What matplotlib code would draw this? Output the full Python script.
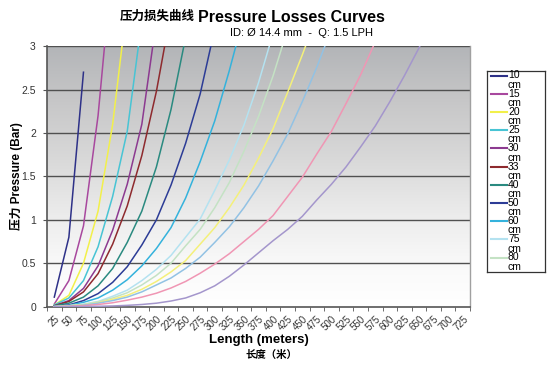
import matplotlib
matplotlib.use("Agg")
import matplotlib.pyplot as plt
import numpy as np
from matplotlib.colors import LinearSegmentedColormap

plt.rcParams['font.family'] = ['Liberation Sans', 'Noto Sans CJK SC', 'DejaVu Sans']

# ==============================
# data
# ==============================
lengths = [25, 50, 75, 100, 125, 150, 175, 200, 225, 250, 275, 300, 325, 350,
           375, 400, 425, 450, 475, 500, 525, 550, 575, 600, 625, 650, 675,
           700, 725]

p_10 = [0.11, 0.80, 2.70]
p_15 = [0.03, 0.30, 0.93, 2.20, 4.00]
p_20 = [0.02, 0.13, 0.50, 1.10, 2.10, 3.50]
p_25 = [0.02, 0.10, 0.30, 0.69, 1.27, 2.02, 3.30]
p_30 = [0.01, 0.07, 0.21, 0.47, 0.88, 1.41, 2.10, 3.30]
p_33 = [0.01, 0.06, 0.17, 0.38, 0.72, 1.16, 1.74, 2.48, 3.40]
p_40 = [0.01, 0.04, 0.11, 0.24, 0.44, 0.74, 1.10, 1.61, 2.27, 3.10]
p_50 = [0.0, 0.02, 0.07, 0.15, 0.28, 0.46, 0.71, 1.00, 1.40, 1.88, 2.45, 3.20]
p_60 = [0.0, 0.015, 0.05, 0.10, 0.19, 0.31, 0.47, 0.67, 0.91, 1.25, 1.67,
        2.14, 2.72, 3.35]
p_75 = [0.0, 0.01, 0.03, 0.06, 0.12, 0.19, 0.30, 0.43, 0.59, 0.80, 1.01,
        1.34, 1.69, 2.09, 2.58, 3.15]
p_80 = [0.0, 0.01, 0.025, 0.055, 0.10, 0.16, 0.25, 0.36, 0.50, 0.70, 0.89,
        1.14, 1.43, 1.79, 2.19, 2.66, 3.20]
p_100 = [0.0, 0.01, 0.02, 0.045, 0.085, 0.13, 0.20, 0.29, 0.40, 0.53, 0.72,
         0.91, 1.14, 1.40, 1.71, 2.05, 2.47, 2.90, 3.35]
p_120 = [0.0, 0.006, 0.018, 0.04, 0.07, 0.11, 0.17, 0.25, 0.33, 0.44, 0.57,
         0.74, 0.92, 1.14, 1.39, 1.68, 1.99, 2.36, 2.76, 3.20]
p_150 = [0.0, 0.004, 0.012, 0.025, 0.045, 0.075, 0.11, 0.155, 0.215, 0.29,
         0.385, 0.49, 0.61, 0.75, 0.89, 1.05, 1.27, 1.49, 1.76, 2.02, 2.34,
         2.67, 3.05]
p_200 = [0.0, 0.0, 0.002, 0.004, 0.008, 0.015, 0.025, 0.04, 0.065, 0.10,
         0.16, 0.24, 0.35, 0.48, 0.62, 0.76, 0.89, 1.04, 1.23, 1.41, 1.61,
         1.84, 2.08, 2.36, 2.66, 2.98, 3.35]

series = [p_10, p_15, p_20, p_25, p_30, p_33, p_40, p_50, p_60, p_75, p_80,
          p_100, p_120, p_150, p_200]
legend_labels = ["10", "15", "20", "25", "30", "33", "40", "50", "60", "75", "80"]

colors = ["#2e3188", "#a8489e", "#f2f04a", "#48c4d4", "#8c3a90", "#8e2a2e",
          "#2a8a80", "#2c3c96", "#34b2dc", "#b4e2f0", "#c4e2c4", "#f4f07a",
          "#92c2e4", "#f096b4", "#a496cc"]

# ==============================
# figure
# ==============================
fig = plt.figure(figsize=(5.53, 3.80), dpi=100)
ax = fig.add_axes([0.085, 0.193, 0.765, 0.6855])

# gray-to-white background gradient
grad = LinearSegmentedColormap.from_list(
    "bg", [(0.0, "#ffffff"), (0.15, "#fafafa"), (0.35, "#ececec"),
           (0.55, "#dadada"), (0.8, "#c6c6c7"), (1.0, "#b3b5b8")])
ax.imshow(np.linspace(0, 1, 256).reshape(-1, 1), cmap=grad, origin="lower",
          aspect="auto", extent=(-0.5, len(lengths) - 0.5, 0, 3), zorder=0)

for y in [0.5, 1, 1.5, 2, 2.5, 3]:
    ax.axhline(y, color="#505050", lw=1.0, zorder=1)

for vals, c in zip(series, colors):
    ax.plot(np.arange(len(vals)), vals, color=c, lw=1.1, zorder=3)

ax.set_xlim(-0.5, len(lengths) - 0.5)
ax.set_ylim(0, 3)

ax.set_xticks(np.arange(len(lengths)))
ax.set_xticklabels([str(v) for v in lengths], rotation=45, ha="right",
                   rotation_mode="anchor", fontsize=7, color="#333333")
ax.set_xticks(np.arange(len(lengths) + 1) - 0.5, minor=True)
ax.tick_params(axis="x", which="major", length=0, pad=5)
ax.tick_params(axis="x", which="minor", length=3, color="#555555")

ax.set_yticks([0, 0.5, 1, 1.5, 2, 2.5, 3])
ax.set_yticklabels(["0", "0.5", "1", "1.5", "2", "2.5", "3"], fontsize=7.5,
                   color="#333333")
ax.tick_params(axis="y", length=3, color="#555555", pad=5)

for s in ["left", "bottom"]:
    ax.spines[s].set_color("#555555")
    ax.spines[s].set_linewidth(1.2)
ax.spines["top"].set_visible(False)
ax.spines["right"].set_color("#a0a0a0")
ax.spines["right"].set_linewidth(1.0)

ax.set_ylabel("压力 Pressure (Bar)", fontsize=8.5, fontweight="bold",
              labelpad=-1)
ax.set_xlabel("Length (meters)", fontsize=9.5, fontweight="bold", labelpad=1)
fig.text(0.49, 0.065, "长度（米）", ha="center", va="center", fontsize=7.5,
         fontweight="bold")

# title
fig.text(0.352, 0.955, "压力损失曲线", ha="right", va="center", fontsize=9,
         fontweight="bold")
fig.text(0.358, 0.955, "Pressure Losses Curves", ha="left", va="center",
         fontsize=11.5, fontweight="bold")
fig.text(0.545, 0.912, "ID: Ø 14.4 mm  -  Q: 1.5 LPH", ha="center",
         va="center", fontsize=8)

# legend box (entries wrap "cm" onto a second line, as in the original)
lax = fig.add_axes([487 / 553, 1 - 272 / 380, 58 / 553, 201 / 380])
lax.set_xlim(0, 58)
lax.set_ylim(201, 0)
lax.set_xticks([])
lax.set_yticks([])
for s in lax.spines.values():
    s.set_color("#333333")
    s.set_linewidth(0.9)
for i, lab in enumerate(legend_labels):
    y = 4.5 + i * 18.2
    lax.plot([3.5, 19.5], [y, y], color=colors[i], lw=1.5)
    lax.text(21, y, lab, va="center", ha="left", fontsize=7.5)
    lax.text(21, y + 9.3, "cm", va="center", ha="left", fontsize=7.5)

fig.savefig("out.png", dpi=100)
